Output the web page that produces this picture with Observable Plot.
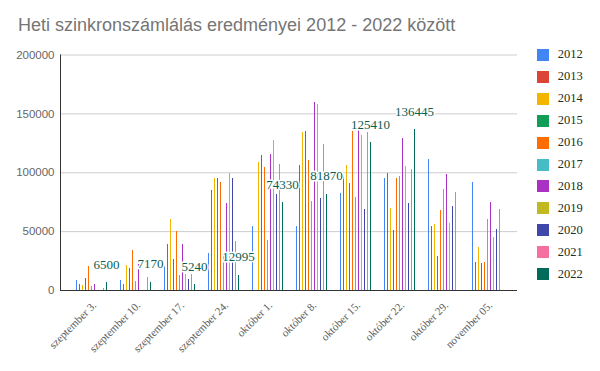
<!DOCTYPE html>
<html><head><meta charset="utf-8">
<script src="https://cdn.jsdelivr.net/npm/d3@7"></script>
<script src="https://cdn.jsdelivr.net/npm/@observablehq/plot@0.6"></script>
<style>
body{margin:0;background:#fff;}
#wrap{position:relative;width:600px;height:371px;overflow:hidden;background:#fff;}
#title{position:absolute;left:18px;top:15px;font:18px "Liberation Sans",Arial,sans-serif;color:#757575;white-space:nowrap;}
#chart{position:absolute;left:0;top:44px;}
#legend{position:absolute;left:537px;top:44px;font:12.5px "Liberation Serif",serif;color:#233020;}
.li{display:flex;align-items:center;height:21.93px;}
.sw{width:12px;height:12px;margin-right:8.7px;flex:none;}
</style></head>
<body>
<div id="wrap">
  <div id="title">Heti szinkronszámlálás eredményei 2012 - 2022 között</div>
  <div id="chart"></div>
  <div id="legend"></div>
</div>
<script>
const weeks = ["szeptember 3.", "szeptember 10.", "szeptember 17.", "szeptember 24.", "október 1.", "október 8.", "október 15.", "október 22.", "október 29.", "november 05."];
const years = ["2012","2013","2014","2015","2016","2017","2018","2019","2020","2021","2022"];
const colors = ["#4285F4","#DB4437","#F4B400","#0F9D58","#FF6D00","#46BDC6","#AB30C4","#C2B921","#3F48AA","#F56FA1","#006B5A"];
const yTicks = [0, 50000, 100000, 150000, 200000];

const y2012 = [8500, 8500, 20400, 31500, 54500, 54000, 82500, 95200, 111300, 91800];
const y2013 = [5100, 5100, 39100, 85000, null, 106200, 96900, 99400, 54500, 24000];
const y2014 = [4200, 21300, 60400, 95000, 109000, 134200, 106200, 69800, 56200, 36700];
const y2015 = [10200, 18700, 26400, 95000, 114700, 135000, 91000, 51100, 29100, 23200];
const y2016 = [20400, 34000, 50200, 92000, 104200, 110500, 135000, 95200, 68100, 24000];
const y2017 = [3400, 7900, 12800, 31200, 42700, 75700, 79100, 96900, 85900, 60500];
const y2018 = [5100, 22500, 39100, 74200, 115500, 159300, 136200, 129100, 98600, 74900];
const y2019 = [null, null, 13600, 99700, 127400, 157600, 131600, 105400, 57100, 45200];
const y2020 = [null, null, 9400, 95000, 81600, 78200, 68900, 74000, 71500, 52000];
const y2021 = [1700, 11200, 13600, 41700, 107100, 124000, 134200, 102800, 83300, 68900];
const y2022 = [6500, 7170, 5240, 12995, 74330, 81870, 125410, 136445, null, null];
const series = [y2012, y2013, y2014, y2015, y2016, y2017, y2018, y2019, y2020, y2021, y2022];

const barStep = 3; // px between neighbouring series inside a week group
const center = (years.length - 1) / 2;

const seriesData = years.map((yr, k) => weeks.map((w, i) => ({week: w, year: yr, value: series[k][i]})).filter(d => d.value != null));

const barMarks = seriesData.map((rows, k) =>
  Plot.ruleX(rows, {x: "week", y1: 0, y2: "value", stroke: "year", strokeWidth: 1, dx: (k - center) * barStep, shapeRendering: "crispEdges"})
);
const kLabel = years.length - 1;
const labelMark = Plot.text(seriesData[kLabel], {x: "week", y: "value", text: d => String(d.value), dx: (kLabel - center) * barStep, dy: -18, fill: "#0b5e4e", stroke: "white", strokeWidth: 3, fontSize: 13, fontFamily: "Liberation Serif, serif"});

const chart = Plot.plot({
  width: 600, height: 327,
  marginTop: 10.5, marginBottom: 81, marginLeft: 60, marginRight: 83,
  style: {background: "transparent", overflow: "visible"},
  x: {type: "band", domain: weeks, padding: 0, insetLeft: 8, insetRight: 8, label: null},
  y: {domain: [0, 200000], label: null},
  color: {domain: years, range: colors},
  marks: [
    Plot.gridY(yTicks, {stroke: "#cccccc", strokeOpacity: 1}),
    Plot.axisY(yTicks, {tickSize: 0, tickPadding: 6, tickFormat: d => String(d), fill: "#666", fontSize: 11.5, fontFamily: "Liberation Sans, Arial, sans-serif", label: null}),
    Plot.axisX({tickRotate: -45, tickSize: 0, tickPadding: 13, dx: 3, fill: "#5a5a5a", fontSize: 11, fontFamily: "Liberation Serif, serif", label: null}),
    ...barMarks,
    labelMark,
    Plot.ruleY([0], {stroke: "#333"}),
    Plot.frame({anchor: "left", stroke: "#333"})
  ]
});
document.getElementById("chart").appendChild(chart);

const legend = document.getElementById("legend");
years.forEach((yr, k) => {
  const row = document.createElement("div");
  row.className = "li";
  const sw = document.createElement("span");
  sw.className = "sw";
  sw.style.background = colors[k];
  const t = document.createElement("span");
  t.textContent = yr;
  row.appendChild(sw); row.appendChild(t);
  legend.appendChild(row);
});
</script>
</body></html>
